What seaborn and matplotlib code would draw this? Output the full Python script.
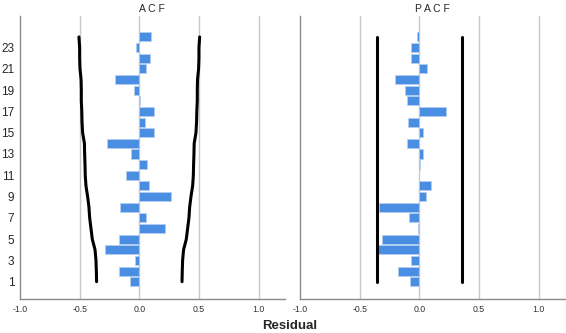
import numpy as np
import pandas as pd
import seaborn as sns
import matplotlib
matplotlib.use("Agg")
import matplotlib.pyplot as plt

lags = list(range(1, 25))

acf = [-0.078, -0.170, -0.036, -0.288, -0.168, 0.212, 0.053, -0.159,
       0.263, 0.078, -0.115, 0.061, -0.067, -0.271, 0.120, 0.050,
       0.126, 0.003, -0.042, -0.201, 0.056, 0.092, -0.025, 0.095]

pacf = [-0.078, -0.179, -0.070, -0.344, -0.313, -0.011, -0.087, -0.341,
        0.053, 0.100, -0.006, 0.005, 0.034, -0.103, 0.031, -0.098,
        0.223, -0.103, -0.123, -0.204, 0.061, -0.070, -0.070, -0.017]

# confidence limits (upper), lower is the mirror
acf_limit = [0.358, 0.360, 0.363, 0.371, 0.394, 0.405, 0.416, 0.422,
             0.433, 0.447, 0.453, 0.455, 0.458, 0.460, 0.475, 0.480,
             0.482, 0.486, 0.486, 0.488, 0.497, 0.500, 0.500, 0.506]
pacf_limit = [0.358] * 24

titles = ["A C F", "P A C F"]
xticks = [-1.0, -0.5, 0.0, 0.5, 1.0]
yticks = list(range(1, 24, 2))


def main():
    sns.set_theme(style="white")
    plt.rcParams['font.family'] = ['Liberation Sans', 'DejaVu Sans']

    fig = plt.figure(figsize=(5.66, 3.33), dpi=100)
    ax1 = fig.add_axes([0.0353, 0.102, 0.468, 0.850])
    ax2 = fig.add_axes([0.530, 0.102, 0.468, 0.850])

    panels = [(ax1, acf, acf_limit), (ax2, pacf, pacf_limit)]
    for i, (ax, vals, lim) in enumerate(panels):
        df = pd.DataFrame({"lag": lags, "value": vals})
        for g in [-0.5, 0.0, 0.5, 1.0]:
            ax.axvline(g, color="#c8c8c8", lw=1, zorder=0)
        sns.barplot(data=df, x="value", y="lag", orient="h", native_scale=True,
                    width=0.85, color="#4a8ee3", edgecolor="#b3cff2",
                    linewidth=0.6, saturation=1, ax=ax, zorder=2)
        up = np.array(lim)
        ax.plot(up, lags, color="black", lw=2.2, zorder=3)
        ax.plot(-up, lags, color="black", lw=2.2, zorder=3)

        ax.set_xlim(-1.0, 1.22)
        ax.set_ylim(-0.63, 25.97)
        ax.set_xticks(xticks)
        ax.set_xticklabels(["%.1f" % t for t in xticks], fontsize=6.3,
                           color="#333333")
        ax.set_yticks(yticks)
        if i == 0:
            ax.set_yticklabels([str(t) for t in yticks], fontsize=8.5)
        else:
            ax.set_yticklabels([])
        ax.tick_params(length=0, pad=4)
        ax.set_xlabel("")
        ax.set_ylabel("")
        ax.set_title(titles[i], fontsize=7.5, pad=3)
        for s in ["top", "right"]:
            ax.spines[s].set_visible(False)
        for s in ["left", "bottom"]:
            ax.spines[s].set_color("#8a8a8a")
            ax.spines[s].set_linewidth(1)

    fig.text(0.512, 0.004, "Residual", ha="center", va="bottom",
             fontsize=9.5, fontweight="bold")

    plt.savefig("out.png", dpi=100)


if __name__ == "__main__":
    main()
